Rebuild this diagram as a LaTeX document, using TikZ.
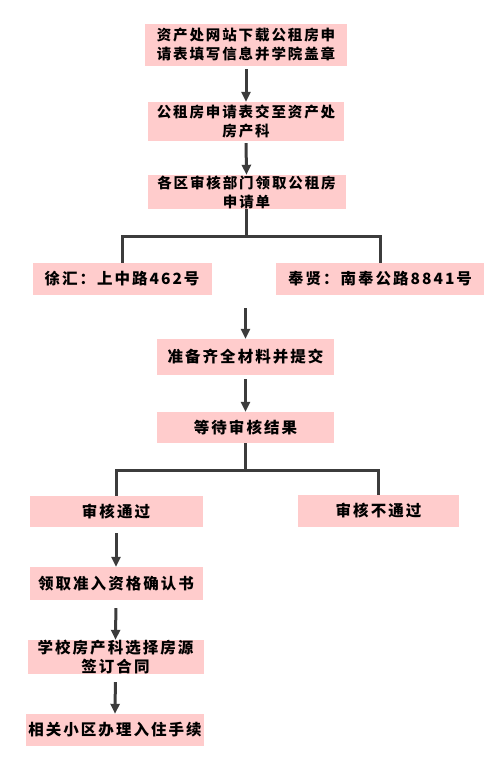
\documentclass[tikz,border=0pt]{standalone}
\usepackage{fontspec}
\usepackage{tikz}
\usetikzlibrary{arrows.meta}
\newfontfamily\cjk[LetterSpace=13]{Noto Sans CJK SC}
\definecolor{boxpink}{RGB}{255,204,204}
\definecolor{linegray}{RGB}{60,60,60}

\begin{document}
\begin{tikzpicture}[x=1pt,y=-1pt,
    box/.style={fill=boxpink, inner sep=0pt, align=center,
        font=\cjk\bfseries\fontsize{15.5}{19}\selectfont},
    topbox/.style={box, font=\cjk\bfseries\fontsize{14.5}{19}\selectfont},
    arr/.style={draw=linegray, line width=3pt, -{Triangle[length=10pt,width=9pt]}},
    ln/.style={draw=linegray, line width=3pt}]

\useasboundingbox (0,0) rectangle (500,762);

% application
\node[topbox, minimum width=202pt, minimum height=42pt] (1) at (246,45)
    {资产处网站下载公租房申\\请表填写信息并学院盖章};
\node[topbox, minimum width=196pt, minimum height=39pt] (2) at (246,121.5)
    {公租房申请表交至资产处\\房产科};
\node[topbox, minimum width=198pt, minimum height=34pt] (3) at (246.5,192)
    {各区审核部门领取公租房\\申请单};

% districts
\node[box, minimum width=179pt, minimum height=32pt] (41) at (122,279)
    {徐汇：上中路462号};
\node[box, minimum width=208pt, minimum height=32pt] (42) at (380,279)
    {奉贤：南奉公路8841号};

\node[box, minimum width=177pt, minimum height=36pt] (5) at (245.5,357)
    {准备齐全材料并提交};
\node[box, minimum width=177pt, minimum height=31pt] (6) at (245.5,427.5)
    {等待审核结果};

% result
\node[box, minimum width=173pt, minimum height=31pt] (71) at (116,511.5)
    {审核通过};
\node[box, minimum width=161pt, minimum height=32pt] (72) at (378.5,511)
    {审核不通过};

\node[box, minimum width=173pt, minimum height=33pt] (8) at (116,583.5)
    {领取准入资格确认书};
\node[box, minimum width=176pt, minimum height=32pt] (9) at (115.5,657)
    {学校房产科选择房源\\签订合同};
\node[box, minimum width=178pt, minimum height=32pt] (10) at (115,730)
    {相关小区办理入住手续};

\coordinate (j1) at (246.5,236);
\coordinate (j2) at (245.5,470);
\coordinate (s5) at (245.5,308);

\draw[arr, shorten <=3pt] (1.south) -- (2.north);
\draw[arr, shorten <=2pt] (2.south) -- (3.north);

\draw[ln] (3.south) -- (j1);
\draw[ln] (41.north) |- (j1) -| (42.north);

\draw[arr] (s5) -- (5.north);
\draw[arr, shorten <=4pt] (5.south) -- (6.north);

\draw[ln] (6.south) -- (j2);
\draw[ln] (71.north) |- (j2) -| (72.north);

\draw[arr, shorten <=6pt] (71.south) -- (8.north);
\draw[arr, shorten <=8pt] (8.south) -- (9.north);
\draw[arr, shorten <=8pt] (9.south) -- (10.north);
\end{tikzpicture}
\end{document}
